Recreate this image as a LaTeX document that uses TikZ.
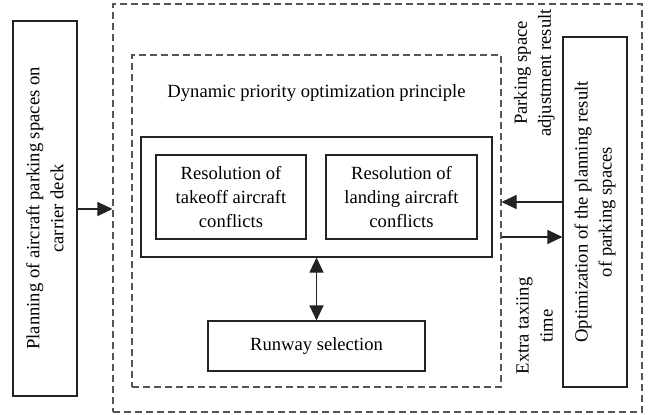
\documentclass[tikz,border=0pt]{standalone}
\usepackage{fontspec}
\setmainfont{Liberation Serif}
\usetikzlibrary{arrows.meta,calc}
\definecolor{dashgray}{RGB}{85,85,85}
\definecolor{linedark}{RGB}{35,35,35}
\begin{document}
\begin{tikzpicture}[x=1pt,y=-1pt,
  font=\fontsize{18.6}{24}\selectfont,
  solidbox/.style={draw=linedark,line width=1.1pt,inner sep=0pt,align=center},
  dashbox/.style={draw=dashgray,line width=1.1pt,dash pattern=on 7pt off 4pt,inner sep=0pt},
  arr/.style={draw=linedark,line width=1.1pt,-{Triangle[length=15pt,width=14pt]}},
  darr/.style={draw=linedark,line width=1.1pt,{Triangle[length=15pt,width=14pt]}-{Triangle[length=15pt,width=14pt]}},
  lbl/.style={align=center,inner sep=0pt}]
\useasboundingbox (0,0) rectangle (649,415);
\node[solidbox,minimum width=64pt,minimum height=375pt] (left) at (45,208.5) {};
\node[lbl,rotate=90] (lefttxt) at (left.center) {Planning of aircraft parking spaces on\\carrier deck};
\node[dashbox,minimum width=529pt,minimum height=408pt] (outer) at (377.5,208) {};
\node[dashbox,minimum width=369pt,minimum height=332pt] (inner) at (316.5,221) {};
\node[lbl] (title) at (316.5,93) {Dynamic priority optimization principle};
\node[solidbox,minimum width=351pt,minimum height=120pt] (conf) at (316.5,197) {};
\node[solidbox,minimum width=150pt,minimum height=84pt] (takeoff) at (231,197) {Resolution of\\takeoff aircraft\\conflicts};
\node[solidbox,minimum width=151pt,minimum height=84pt] (landing) at (401.5,197) {Resolution of\\landing aircraft\\conflicts};
\node[solidbox,minimum width=217pt,minimum height=50pt] (runway) at (316.5,346) {Runway selection};
\node[solidbox,minimum width=64pt,minimum height=350pt] (right) at (595,212) {};
\node[lbl,rotate=90] (righttxt) at (right.center) {Optimization of the planning result\\of parking spaces};
\node[lbl,rotate=90] (adj) at (534.5,73) {Parking space\\adjustment result};
\node[lbl,rotate=90] (extra) at (534.5,326) {Extra taxiing\\time};
\draw[arr] ([yshift=-0.5pt]left.east) -- ([yshift=-0.5pt]left.east -| outer.west);
\draw[arr] ([yshift=10pt]right.west) -- ([yshift=10pt]right.west -| inner.east);
\draw[arr] ([yshift=-25pt]right.west -| inner.east) -- ([yshift=-25pt]right.west);
\draw[darr] (conf.south) -- (runway.north);
\end{tikzpicture}
\end{document}
